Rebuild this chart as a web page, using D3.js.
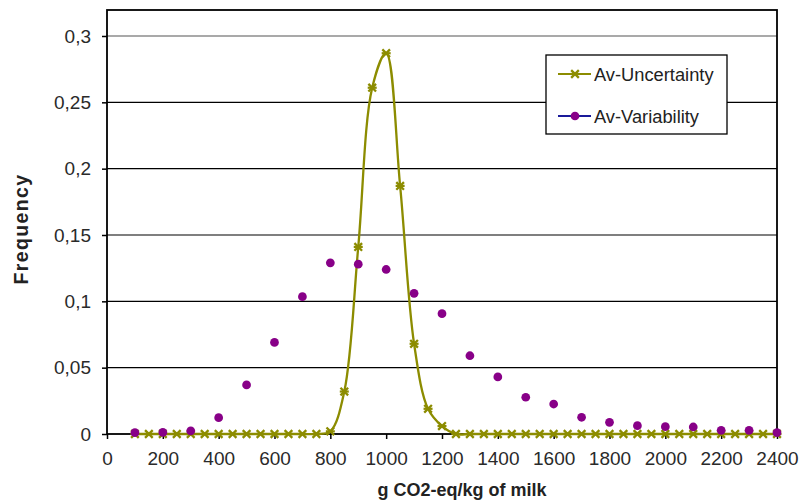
<!DOCTYPE html>
<html><head><meta charset="utf-8">
<script src="https://cdn.jsdelivr.net/npm/d3@7"></script>
<style>body{margin:0;background:#fff;} text{font-family:"Liberation Sans",Arial,sans-serif;}</style>
</head><body>
<svg id="c" width="801" height="504"></svg>
<script>
const uncX = [100,150,200,250,300,350,400,450,500,550,600,650,700,750,800,850,900,950,1000,1050,1100,1150,1200,1250,1300,1350,1400,1450,1500,1550,1600,1650,1700,1750,1800,1850,1900,1950,2000,2050,2100,2150,2200,2250,2300,2350,2400];
const uncY = [0,0,0,0,0,0,0,0,0,0,0,0,0,0,0.002,0.032,0.141,0.261,0.287,0.187,0.068,0.019,0.006,0,0,0,0,0,0,0,0,0,0,0,0,0,0,0,0,0,0,0,0,0,0,0,0];
const varX = [100,200,300,400,500,600,700,800,900,1000,1100,1200,1300,1400,1500,1600,1700,1800,1900,2000,2100,2200,2300,2400];
const varY = [0.001,0.0012,0.0023,0.0123,0.037,0.069,0.1035,0.129,0.128,0.124,0.106,0.0907,0.059,0.043,0.0277,0.0226,0.0126,0.0088,0.0063,0.0055,0.0053,0.0028,0.0028,0.001];
const xTicks = [0,200,400,600,800,1000,1200,1400,1600,1800,2000,2200,2400];
const yTicks = [0,0.05,0.1,0.15,0.2,0.25,0.3];
const seriesNames = ["Av-Uncertainty","Av-Variability"];

const svg = d3.select("#c");
const L=107, R=777, T=10, B=434;
const x = d3.scaleLinear().domain([0,2400]).range([L,R]);
const y = d3.scaleLinear().domain([0,0.3]).range([B,B-0.3*1326.7]);
const fmt = d => String(d).replace(".",",");

// gridlines
svg.append("g").selectAll("line").data(yTicks.filter(d=>d>0)).join("line")
  .attr("x1",L).attr("x2",R).attr("y1",d=>y(d)).attr("y2",d=>y(d))
  .attr("stroke",d=>d===0.3?"#555":"#000").attr("stroke-width",1.2);

// axes
const yAxis = svg.append("g").attr("transform",`translate(${L},0)`)
  .call(d3.axisLeft(y).tickValues(yTicks).tickFormat(fmt).tickSize(5).tickPadding(11));
const xAxis = svg.append("g").attr("transform",`translate(0,${B})`)
  .call(d3.axisBottom(x).tickValues(xTicks).tickFormat(d=>d).tickSize(5).tickPadding(13));
[yAxis,xAxis].forEach(a=>{
  a.select(".domain").remove();
  a.selectAll("line").attr("stroke","#000").attr("stroke-width",1.5);
  a.selectAll("text").attr("font-size",19).attr("fill","#2a2a2a");
});

// border
svg.append("rect").attr("x",L).attr("y",T).attr("width",R-L).attr("height",B-T)
  .attr("fill","none").attr("stroke","#000").attr("stroke-width",1.8);

// uncertainty smooth line
const uncData = uncX.map((d,i)=>[d,uncY[i]]);
const olive = "#8c8c00";
svg.append("path").datum(uncData)
  .attr("d", d3.line().x(d=>x(d[0])).y(d=>y(d[1])).curve(d3.curveCatmullRom.alpha(0.5)))
  .attr("fill","none").attr("stroke",olive).attr("stroke-width",2.3);

const star = d3.symbol().type(d3.symbolX).size(40);
function drawStar(g, cx, cy){
  g.append("path").attr("d",star()).attr("transform",`translate(${cx},${cy})`)
    .attr("fill","none").attr("stroke",olive).attr("stroke-width",2.3);
  g.append("line").attr("x1",cx-4.5).attr("x2",cx+4.5).attr("y1",cy).attr("y2",cy)
    .attr("stroke",olive).attr("stroke-width",2.2);
}
const sg = svg.append("g");
uncData.forEach(d=>drawStar(sg, x(d[0]), y(d[1])));

// variability points
const purple = "#880088";
const dot = d3.symbol().type(d3.symbolCircle).size(60);
svg.append("g").selectAll("path").data(varX.map((d,i)=>[d,varY[i]])).join("path")
  .attr("d",dot()).attr("transform",d=>`translate(${x(d[0])},${y(d[1])})`)
  .attr("fill",purple);

// legend
const lg = svg.append("g");
lg.append("rect").attr("x",546).attr("y",55).attr("width",181).attr("height",79)
  .attr("fill","#fff").attr("stroke","#000").attr("stroke-width",1.3);
lg.append("line").attr("x1",558).attr("x2",591).attr("y1",74).attr("y2",74).attr("stroke",olive).attr("stroke-width",2.2);
drawStar(lg,575,74);
lg.append("line").attr("x1",558).attr("x2",591).attr("y1",116).attr("y2",116).attr("stroke","#1a1a9a").attr("stroke-width",2.2);
lg.append("path").attr("d",dot()).attr("transform","translate(575,116)").attr("fill",purple);
lg.selectAll("text.leg").data(seriesNames).join("text")
  .attr("x",594).attr("y",(d,i)=>[81,123][i]).attr("font-size",18.3).attr("fill","#222").text(d=>d);

// axis titles
svg.append("text").attr("x",462).attr("y",496).attr("text-anchor","middle")
  .attr("font-size",18).attr("font-weight","bold").attr("fill","#222").text("g CO2-eq/kg of milk");
svg.append("text").attr("transform","translate(28,229) rotate(-90)").attr("text-anchor","middle")
  .attr("font-size",19.5).attr("letter-spacing",1.4).attr("font-weight","bold").attr("fill","#222").text("Frequency");
</script>
</body></html>
